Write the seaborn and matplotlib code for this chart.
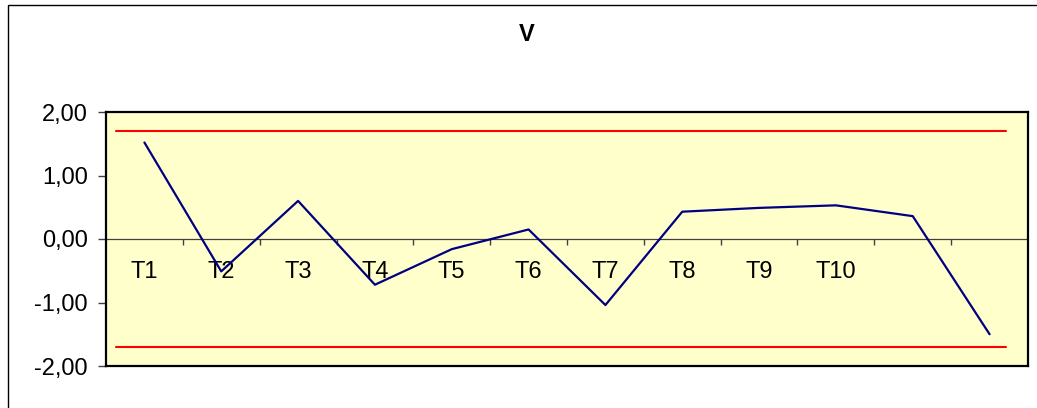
import numpy as np
import pandas as pd
import seaborn as sns
import matplotlib.pyplot as plt
from matplotlib.patches import Rectangle
from matplotlib.ticker import FuncFormatter, FixedLocator

# data
labels = ['T1', 'T2', 'T3', 'T4', 'T5', 'T6', 'T7', 'T8', 'T9', 'T10', '', '']
values = [1.52, -0.51, 0.60, -0.72, -0.16, 0.15, -1.04, 0.43, 0.49, 0.53, 0.36, -1.50]
limits = [1.70, -1.70]

sns.set_style('white')
plt.rcParams['font.family'] = ['Liberation Sans', 'DejaVu Sans']
plt.rcParams['text.color'] = 'black'
plt.rcParams['xtick.color'] = 'black'
plt.rcParams['ytick.color'] = 'black'

df = pd.DataFrame({'pos': np.arange(len(values)), 'V': values})

fig = plt.figure(figsize=(10.37, 4.08), dpi=100)
ax = fig.add_axes([106 / 1037, 1 - 366 / 408, 922 / 1037, 254 / 408])
ax.set_facecolor('#FFFFCC')

# outer chart border (cut off on right and bottom like the screenshot)
fig.patches.append(Rectangle((8 / 1037, -0.1), 1.2, 1 - 5 / 408 + 0.1,
                             transform=fig.transFigure, fill=False,
                             edgecolor='black', linewidth=1))

# control limits
for lim in limits:
    ax.axhline(lim, xmin=0.011, xmax=0.976, color='#FF0000', linewidth=1.5, zorder=2)

ax.axhline(0, color='#404040', linewidth=0.9, zorder=1)

sns.lineplot(data=df, x='pos', y='V', ax=ax, color='#000080', linewidth=1.6, zorder=3)

ax.set_xlim(-0.5, len(values) - 0.5)
ax.set_ylim(-2, 2)
ax.set_yticks([-2, -1, 0, 1, 2])
ax.yaxis.set_major_formatter(FuncFormatter(lambda v, p: f'{v:.2f}'.replace('.', ',')))
ax.tick_params(axis='y', direction='out', length=6, width=1, color='#404040',
               labelsize=17, pad=7, left=True)
ax.set_xticks([])
ax.set_xlabel('')
ax.set_ylabel('')
for s in ax.spines.values():
    s.set_color('black')
    s.set_linewidth(1.6)

# category axis drawn at y = 0
sec = ax.secondary_xaxis(0.5)
sec.set_alignment('bottom')
for s in sec.spines.values():
    s.set_visible(False)
sec.xaxis.set_major_locator(FixedLocator(np.arange(0.5, len(values) - 0.5, 1.0)))
sec.xaxis.set_major_formatter(FuncFormatter(lambda v, p: ''))
sec.xaxis.set_minor_locator(FixedLocator(np.arange(len(values))))
sec.set_xticklabels(labels, minor=True)
sec.tick_params(axis='x', which='major', direction='out', length=4, width=1, color='#404040')
sec.tick_params(axis='x', which='minor', length=0, labelsize=17, pad=16)

fig.text(527 / 1037, 1 - 41 / 408, 'V', ha='center', va='baseline',
         fontsize=17, fontweight='bold')

fig.savefig('out.png', dpi=100)
